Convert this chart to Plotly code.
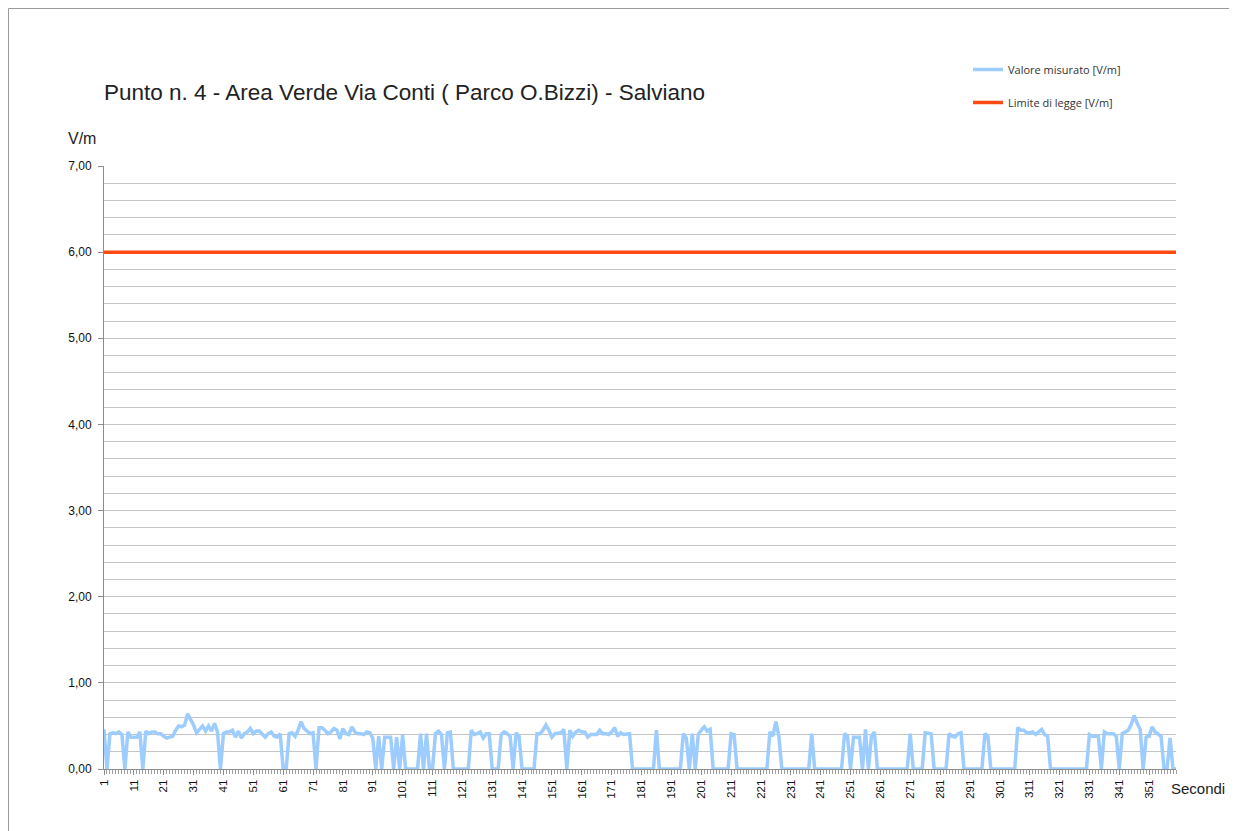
import plotly.graph_objects as go

seconds = list(range(1, 361))

valore_misurato = [
    0.46, 0, 0.41, 0.42, 0.41, 0.43, 0.40, 0, 0.43, 0.37,
    0.37, 0.37, 0.43, 0, 0.44, 0.41, 0.43, 0.43, 0.41, 0.41,
    0.38, 0.36, 0.37, 0.38, 0.45, 0.50, 0.49, 0.51, 0.64, 0.58,
    0.51, 0.42, 0.46, 0.50, 0.44, 0.50, 0.44, 0.53, 0.43, 0,
    0.41, 0.43, 0.43, 0.45, 0.37, 0.44, 0.36, 0.41, 0.43, 0.47,
    0.41, 0.44, 0.44, 0.41, 0.37, 0.41, 0.43, 0.38, 0.37, 0.41,
    0, 0, 0.41, 0.42, 0.38, 0.45, 0.55, 0.47, 0.44, 0.41,
    0.42, 0, 0.48, 0.48, 0.45, 0.41, 0.43, 0.47, 0.45, 0.35,
    0.47, 0.41, 0.40, 0.49, 0.43, 0.41, 0.41, 0.40, 0.43, 0.42,
    0.36, 0, 0.38, 0, 0.37, 0.37, 0.37, 0, 0.37, 0,
    0.40, 0, 0, 0, 0, 0, 0.41, 0, 0.41, 0,
    0, 0.41, 0.44, 0.40, 0, 0.42, 0.43, 0, 0, 0,
    0, 0, 0, 0.45, 0.40, 0.41, 0.43, 0.36, 0.41, 0.41,
    0, 0, 0, 0.40, 0.43, 0.41, 0.38, 0, 0.42, 0.38,
    0, 0, 0, 0, 0, 0.41, 0.41, 0.45, 0.51, 0.45,
    0.37, 0.41, 0.41, 0.42, 0.46, 0, 0.45, 0.38, 0.43, 0.45,
    0.43, 0.43, 0.37, 0.40, 0.40, 0.40, 0.45, 0.41, 0.41, 0.40,
    0.43, 0.48, 0.38, 0.42, 0.40, 0.41, 0.41, 0, 0, 0,
    0, 0, 0, 0, 0, 0.45, 0, 0, 0, 0,
    0, 0, 0, 0, 0.41, 0.36, 0, 0.41, 0, 0.40,
    0.45, 0.49, 0.44, 0.46, 0, 0, 0, 0, 0, 0,
    0.41, 0.40, 0, 0, 0, 0, 0, 0, 0, 0,
    0, 0, 0, 0.43, 0.38, 0.55, 0.38, 0, 0, 0,
    0, 0, 0, 0, 0, 0, 0, 0.41, 0, 0,
    0, 0, 0, 0, 0, 0, 0, 0, 0.41, 0.38,
    0, 0.37, 0.37, 0.37, 0, 0.46, 0, 0.38, 0.43, 0,
    0, 0, 0, 0, 0, 0, 0, 0, 0, 0,
    0.41, 0, 0, 0, 0, 0.42, 0.41, 0.41, 0, 0,
    0, 0, 0, 0.41, 0.38, 0.37, 0.41, 0.42, 0, 0,
    0, 0, 0, 0, 0, 0.41, 0.38, 0, 0, 0,
    0, 0, 0, 0, 0, 0, 0.48, 0.45, 0.45, 0.42,
    0.42, 0.43, 0.40, 0.43, 0.46, 0.40, 0.38, 0, 0, 0,
    0, 0, 0, 0, 0, 0, 0, 0, 0, 0,
    0.40, 0.38, 0.38, 0.38, 0, 0.43, 0.41, 0.41, 0.41, 0.38,
    0, 0.41, 0.43, 0.45, 0.52, 0.62, 0.53, 0.46, 0, 0.37,
    0.38, 0.49, 0.43, 0.41, 0.38, 0, 0, 0.36, 0, 0,
]

limite_di_legge = [6.00] * len(seconds)

x_tick_values = [1, 11, 21, 31, 41, 51, 61, 71, 81, 91, 101, 111, 121, 131, 141,
                 151, 161, 171, 181, 191, 201, 211, 221, 231, 241, 251, 261, 271,
                 281, 291, 301, 311, 321, 331, 341, 351]
y_tick_values = [0, 1, 2, 3, 4, 5, 6, 7]
y_tick_labels = ["0,00", "1,00", "2,00", "3,00", "4,00", "5,00", "6,00", "7,00"]

title_text = "Punto n. 4 - Area Verde Via Conti ( Parco O.Bizzi) - Salviano"

# page offset (browser body margin)
OX, OY = 8, 8
W, H = 1237 - OX, 831 - OY
# plot area in reference pixels: x 104..1176, y 166..769
PX0, PX1, PY0, PY1 = 104, 1176, 166, 769
L, T = PX0 - OX, PY0 - OY
R, B = W - (PX1 - OX), H - (PY1 - OY)
pw, ph = PX1 - PX0, PY1 - PY0


def px_x(p):
    return (p - PX0) / pw


def px_y(p):
    return (PY1 - p) / ph


fig = go.Figure()
fig.add_trace(go.Scatter(
    x=seconds, y=valore_misurato, mode="lines", name="Valore misurato [V/m]",
    line=dict(color="#9DCCFF", width=3.5), legendgroup="a",
))
fig.add_trace(go.Scatter(
    x=seconds, y=limite_di_legge, mode="lines", name="Limite di legge [V/m]",
    line=dict(color="#FF4A14", width=3.5), legendgroup="b",
))

fig.update_layout(
    width=W, height=H,
    margin=dict(l=L, r=R, t=T, b=B),
    paper_bgcolor="white", plot_bgcolor="white",
    font=dict(family="Liberation Sans, Arial, sans-serif", color="#222"),
    separators=",.",
    title=dict(text=title_text, x=0, xref="paper", xanchor="left",
               y=1 - (92 - OY) / H, yref="container", yanchor="middle",
               font=dict(size=22.5, color="#222")),
    showlegend=True,
    legend=dict(x=px_x(968), y=px_y(55), xanchor="left", yanchor="top",
                font=dict(size=11, color="#333", family="Open Sans, Liberation Sans, sans-serif"),
                tracegroupgap=14, traceorder="grouped", itemwidth=30,
                bgcolor="rgba(0,0,0,0)"),
    xaxis=dict(
        range=[1, 360], tickmode="array", tickvals=x_tick_values,
        ticktext=[str(v) for v in x_tick_values], tickangle=-90,
        tickfont=dict(size=11.5, color="#111"),
        showgrid=False, zeroline=False,
        showline=True, linecolor="#8c8c8c", linewidth=1,
        ticks="outside", ticklen=5, tickcolor="#8c8c8c",
        minor=dict(tick0=1, dtick=1, ticks="outside", ticklen=4, tickcolor="#a0a0a0", showgrid=False),
    ),
    yaxis=dict(
        range=[0, 7], tickmode="array", tickvals=y_tick_values, ticktext=y_tick_labels,
        tickfont=dict(size=12, color="#111"), ticklabelstandoff=4,
        showgrid=True, gridcolor="#c4c4c4", gridwidth=1, zeroline=False,
        showline=True, linecolor="#8c8c8c", linewidth=1,
        ticks="outside", ticklen=5, tickcolor="#8c8c8c",
        minor=dict(dtick=0.2, showgrid=True, gridcolor="#c4c4c4", gridwidth=1, ticks=""),
    ),
)

fig.add_annotation(text="V/m", xref="paper", yref="paper", x=px_x(82), y=px_y(138),
                   showarrow=False, font=dict(size=16, color="#222"), xanchor="center", yanchor="middle")
fig.add_annotation(text="Secondi", xref="paper", yref="paper", x=px_x(1198), y=px_y(788),
                   showarrow=False, font=dict(size=15, color="#222"), xanchor="center", yanchor="middle")

fig.add_shape(type="rect", xref="paper", yref="paper",
              x0=px_x(8.5), x1=px_x(1260), y0=px_y(860), y1=px_y(8.5),
              line=dict(color="#9a9a9a", width=1), fillcolor="rgba(0,0,0,0)", layer="below")

fig.write_html("out.html")
